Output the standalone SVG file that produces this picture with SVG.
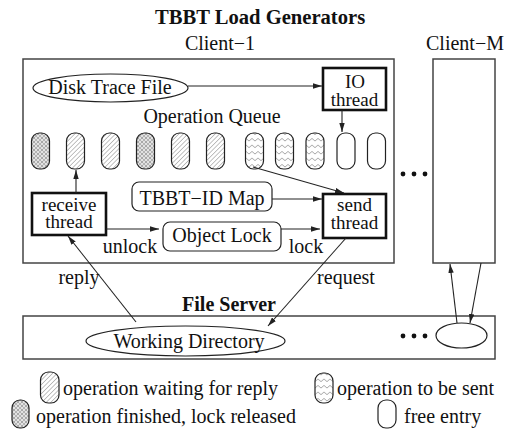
<svg xmlns="http://www.w3.org/2000/svg" width="507" height="430" viewBox="0 0 507 430">
  <style>
    text { font-family: "Liberation Serif", "Times New Roman", serif; font-size: 20px; fill: #111; }
    .bold { font-weight: bold; }
    .mid { text-anchor: middle; }
    .tight { font-size: 19px; }
    .frame { fill: none; stroke: #444; stroke-width: 1.5; }
    .thin { fill: #fff; stroke: #222; stroke-width: 1.2; }
    .thick { fill: #fff; stroke: #111; stroke-width: 2.6; }
    .conn { fill: none; stroke: #222; stroke-width: 1.1; }
    .arrow { marker-end: url(#head); }
    .slot { stroke: #222; stroke-width: 1.2; }
    .wait { fill: url(#hatch); }
    .done { fill: url(#cross); }
    .send { fill: url(#zigzag); }
    .free { fill: #fff; }
    .dot { fill: #111; }
  </style>
  <defs>
    <marker id="head" viewBox="0 0 10 6" refX="10" refY="3" markerUnits="userSpaceOnUse" markerWidth="9" markerHeight="5.5" orient="auto">
      <path d="M0,0 L10,3 L0,6 z" fill="#222"/>
    </marker>
    <!-- diagonal hatching: operation waiting for reply -->
    <pattern id="hatch" patternUnits="userSpaceOnUse" width="3.2" height="3.2" patternTransform="rotate(45)">
      <rect width="3.2" height="3.2" fill="#fff"/>
      <line x1="0" y1="0" x2="0" y2="3.2" stroke="#777" stroke-width="0.9"/>
    </pattern>
    <!-- chain mesh: operation finished, lock released -->
    <pattern id="cross" patternUnits="userSpaceOnUse" width="4" height="4">
      <rect width="4" height="4" fill="#f2f2f2"/>
      <path d="M0,0 L4,4 M4,0 L0,4" stroke="#8a8a8a" stroke-width="0.6"/>
      <circle cx="2" cy="2" r="1.1" fill="none" stroke="#999" stroke-width="0.5"/>
    </pattern>
    <!-- zigzag: operation to be sent -->
    <pattern id="zigzag" patternUnits="userSpaceOnUse" width="6" height="6.5">
      <rect width="6" height="6.5" fill="#fff"/>
      <path d="M0,2 L3,4.6 L6,2" fill="none" stroke="#888" stroke-width="0.8"/>
    </pattern>
  </defs>

  <!-- headings -->
  <text class="bold" x="155" y="24" style="font-size:20.6px">TBBT Load Generators</text>
  <text class="mid" x="220" y="50">Client−1</text>
  <text class="mid" x="465" y="50">Client−M</text>

  <!-- client frames -->
  <g id="client-1">
    <rect class="frame" x="23" y="59" width="371" height="204"/>
  </g>
  <g id="client-m">
    <rect class="frame" x="433" y="59" width="62" height="204"/>
  </g>

  <g id="disk-trace-file">
    <ellipse class="thin" cx="110.5" cy="88" rx="77.5" ry="14"/>
    <text class="mid" x="110" y="94">Disk Trace File</text>
  </g>

  <g id="io-thread">
    <rect class="thick" x="323" y="68" width="63" height="42"/>
    <text class="mid tight" x="355" y="88">IO</text>
    <text class="mid tight" x="354.5" y="106">thread</text>
  </g>

  <g id="operation-queue">
    <text class="mid" x="212" y="123">Operation Queue</text>
    <rect class="slot done" x="31.5" y="133" width="18" height="36" rx="8"/>
    <rect class="slot wait" x="66.5" y="133" width="18" height="36" rx="8"/>
    <rect class="slot wait" x="101.5" y="133" width="18" height="36" rx="8"/>
    <rect class="slot done" x="136.5" y="133" width="18" height="36" rx="8"/>
    <rect class="slot wait" x="171.5" y="133" width="18" height="36" rx="8"/>
    <rect class="slot wait" x="206.5" y="133" width="18" height="36" rx="8"/>
    <rect class="slot send" x="245.5" y="133" width="18" height="36" rx="8"/>
    <rect class="slot send" x="275.5" y="133" width="18" height="36" rx="8"/>
    <rect class="slot send" x="306" y="133" width="18" height="36" rx="8"/>
    <rect class="slot free" x="337" y="133" width="18" height="36" rx="8"/>
    <rect class="slot free" x="367.5" y="133" width="18" height="36" rx="8"/>
  </g>

  <g id="tbbt-id-map">
    <rect class="thin" x="132" y="182" width="140" height="29" rx="7"/>
    <text class="mid" x="202" y="205">TBBT−ID Map</text>
  </g>

  <g id="object-lock">
    <rect class="thin" x="163" y="222" width="118" height="29" rx="7"/>
    <text class="mid" x="222" y="242">Object Lock</text>
  </g>

  <g id="receive-thread">
    <rect class="thick" x="32" y="193" width="74" height="42"/>
    <text class="mid tight" x="69" y="211">receive</text>
    <text class="mid tight" x="69" y="228">thread</text>
  </g>

  <g id="send-thread">
    <rect class="thick" x="323" y="194" width="63" height="44"/>
    <text class="mid tight" x="354.5" y="211">send</text>
    <text class="mid tight" x="354.5" y="229">thread</text>
  </g>

  <!-- more clients -->
  <g id="client-dots">
    <circle class="dot" cx="403" cy="174" r="2.4"/>
    <circle class="dot" cx="414" cy="174" r="2.4"/>
    <circle class="dot" cx="425" cy="174" r="2.4"/>
  </g>

  <!-- file server -->
  <g id="file-server">
    <text class="bold mid" x="229" y="311">File Server</text>
    <rect class="frame" x="23" y="316" width="472" height="43"/>
    <circle class="dot" cx="403" cy="336" r="2.4"/>
    <circle class="dot" cx="414" cy="336" r="2.4"/>
    <circle class="dot" cx="425" cy="336" r="2.4"/>
  </g>
  <g id="working-directory">
    <ellipse class="thin" cx="185.5" cy="341" rx="99.5" ry="15"/>
    <text class="mid" x="189" y="348">Working Directory</text>
  </g>
  <g id="client-m-directory">
    <ellipse class="thin" cx="461.5" cy="335.5" rx="25.5" ry="12.5"/>
  </g>

  <!-- connectors -->
  <g id="connectors">
    <line class="conn arrow" x1="188" y1="86" x2="322" y2="86"/>
    <line class="conn arrow" x1="342" y1="110" x2="342" y2="132"/>
    <line class="conn arrow" x1="76" y1="193" x2="76" y2="170"/>
    <line class="conn arrow" x1="253" y1="167" x2="344" y2="193"/>
    <line class="conn arrow" x1="272" y1="199" x2="322" y2="199"/>
    <line class="conn arrow" x1="281" y1="229" x2="320" y2="229"/>
    <line class="conn arrow" x1="106" y1="229" x2="159" y2="229"/>
    <line class="conn arrow" x1="136" y1="322" x2="68" y2="236"/>
    <line class="conn arrow" x1="346" y1="238" x2="268" y2="326"/>
    <line class="conn arrow" x1="457" y1="323" x2="450" y2="264"/>
    <line class="conn arrow" x1="481" y1="263" x2="470" y2="323"/>
    <text class="mid" x="130" y="253">unlock</text>
    <text class="mid" x="306" y="253">lock</text>
    <text class="mid" x="79" y="284">reply</text>
    <text class="mid" x="346" y="284">request</text>
  </g>

  <!-- legend -->
  <g id="legend">
    <rect class="slot wait" x="40.5" y="372" width="18.5" height="31" rx="8"/>
    <text x="63" y="395">operation waiting for reply</text>
    <rect class="slot send" x="315" y="373" width="18" height="30" rx="8"/>
    <text x="337" y="395">operation to be sent</text>
    <rect class="slot done" x="12" y="400" width="17" height="28" rx="8"/>
    <text x="36" y="423">operation finished, lock released</text>
    <rect class="slot free" x="378" y="400" width="18" height="28" rx="8"/>
    <text x="404" y="423">free entry</text>
  </g>
</svg>
